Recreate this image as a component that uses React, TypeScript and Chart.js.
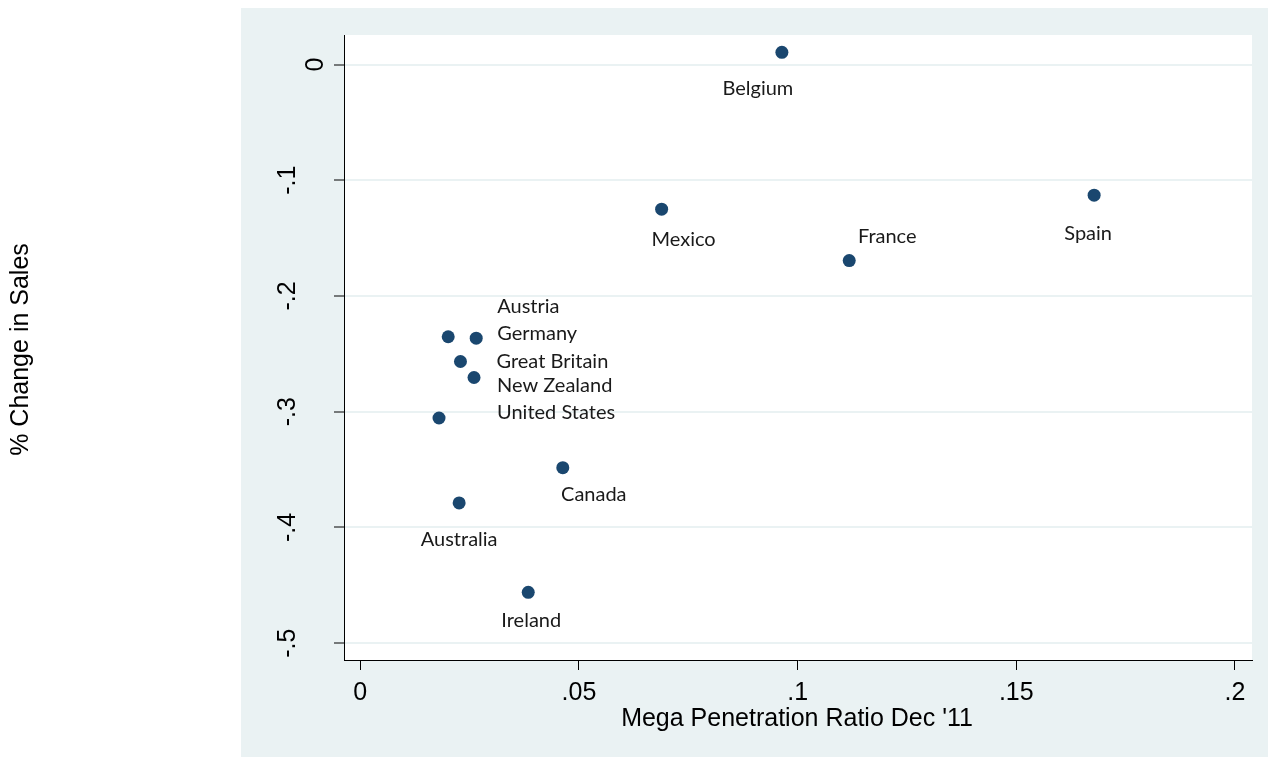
import React, { useEffect, useRef } from "react";
import { Chart, registerables } from "chart.js";

Chart.register(...registerables);

const countries = [
  "Belgium", "Mexico", "France", "Spain", "Austria", "Germany",
  "Great Britain", "New Zealand", "United States", "Canada", "Australia", "Ireland",
];
const penetration = [0.0964, 0.0689, 0.1118, 0.1678, 0.0201, 0.0265, 0.0229, 0.026, 0.018, 0.0463, 0.0226, 0.0384];
const salesChange = [0.0105, -0.125, -0.1694, -0.1129, -0.2352, -0.2364, -0.2566, -0.2704, -0.3054, -0.3483, -0.3788, -0.456];

const xTickValues = [0, 0.05, 0.1, 0.15, 0.2];
const xTickLabels = ["0", ".05", ".1", ".15", ".2"];
const yTickValues = [0, -0.1, -0.2, -0.3, -0.4, -0.5];
const yTickLabels = ["0", "-.1", "-.2", "-.3", "-.4", "-.5"];

const xTitle = "Mega Penetration Ratio Dec '11";
const yTitle = "% Change in Sales";

// label placement (pixel offsets from marker; style only)
const labelStyle: { align: CanvasTextAlign; dx: number; dy: number }[] = [
  { align: "center", dx: -24, dy: 43 },
  { align: "center", dx: 22, dy: 37 },
  { align: "center", dx: 38, dy: -18 },
  { align: "center", dx: -6, dy: 45 },
  { align: "left", dx: 49, dy: -24 },
  { align: "left", dx: 21, dy: 2 },
  { align: "left", dx: 36, dy: 6 },
  { align: "left", dx: 23, dy: 15 },
  { align: "left", dx: 58, dy: 1 },
  { align: "center", dx: 31, dy: 33 },
  { align: "center", dx: 0, dy: 43 },
  { align: "center", dx: 3, dy: 35 },
];

const W = 1268;
const H = 757;
const BG = "#eaf2f3";
const NAVY = "#1a476f";
const AXIS_FONT = "25px 'Liberation Sans', Arial, sans-serif";
const LABEL_FONT = "20px Lato, 'Open Sans', sans-serif";

const decorPlugin = {
  id: "decor",
  beforeDraw(chart: any) {
    const { ctx, chartArea } = chart;
    ctx.save();
    ctx.fillStyle = "#ffffff";
    ctx.fillRect(0, 0, W, H);
    ctx.fillStyle = BG;
    ctx.fillRect(241, 8, W - 241, H - 8);
    ctx.fillStyle = "#ffffff";
    ctx.fillRect(chartArea.left, chartArea.top, chartArea.right - chartArea.left, chartArea.bottom - chartArea.top);
    ctx.restore();
  },
  afterDraw(chart: any) {
    const { ctx, chartArea } = chart;
    const xs = chart.scales.x;
    const ys = chart.scales.y;
    ctx.save();
    ctx.fillStyle = "#000000";
    ctx.font = AXIS_FONT;
    // x tick labels
    ctx.textAlign = "center";
    ctx.textBaseline = "alphabetic";
    xTickValues.forEach((v, i) => {
      ctx.fillText(xTickLabels[i], xs.getPixelForValue(v), chartArea.bottom + 40);
    });
    // y tick labels (rotated)
    yTickValues.forEach((v, i) => {
      const py = ys.getPixelForValue(v);
      const lbl = yTickLabels[i];
      const off = lbl.startsWith("-") ? 49 : 21;
      ctx.save();
      ctx.translate(chartArea.left - off, py);
      ctx.rotate(-Math.PI / 2);
      ctx.textAlign = "center";
      ctx.textBaseline = "alphabetic";
      ctx.fillText(lbl, 0, 0);
      ctx.restore();
    });
    // axis titles
    ctx.textAlign = "center";
    ctx.fillText(xTitle, (chartArea.left + chartArea.right) / 2 - 1, chartArea.bottom + 66);
    ctx.save();
    ctx.translate(28, (chartArea.top + chartArea.bottom) / 2 + 2);
    ctx.rotate(-Math.PI / 2);
    ctx.fillText(yTitle, 0, 0);
    ctx.restore();
    ctx.restore();
  },
  afterDatasetsDraw(chart: any) {
    const { ctx } = chart;
    const meta = chart.getDatasetMeta(0);
    ctx.save();
    ctx.fillStyle = "#1a1a1a";
    ctx.font = LABEL_FONT;
    ctx.textBaseline = "alphabetic";
    meta.data.forEach((pt: any, i: number) => {
      const s = labelStyle[i];
      ctx.textAlign = s.align;
      ctx.fillText(countries[i], pt.x + s.dx, pt.y + s.dy);
    });
    ctx.restore();
  },
};

export default function App() {
  const ref = useRef<HTMLCanvasElement | null>(null);
  useEffect(() => {
    if (!ref.current) return;
    const chart = new Chart(ref.current, {
      type: "scatter",
      data: {
        datasets: [
          {
            label: "countries",
            data: penetration.map((x, i) => ({ x, y: salesChange[i] })),
            backgroundColor: NAVY,
            borderWidth: 0,
            pointRadius: 6.5,
            pointHoverRadius: 6.5,
          },
        ],
      },
      options: {
        animation: false,
        responsive: false,
        events: [],
        layout: { padding: { left: 241, top: 35, right: 16, bottom: 0 } },
        plugins: { legend: { display: false }, tooltip: { enabled: false } },
        scales: {
          x: {
            type: "linear",
            min: -0.00373,
            max: 0.2039,
            afterBuildTicks: (s: any) => {
              s.ticks = xTickValues.map((v) => ({ value: v }));
            },
            afterFit: (s: any) => {
              s.height = 97;
            },
            ticks: { display: false },
            grid: {
              drawOnChartArea: false,
              drawTicks: true,
              tickLength: 10,
              tickColor: "#000000",
              tickWidth: 1,
            },
            border: { display: true, color: "#000000", width: 1 },
          },
          y: {
            type: "linear",
            min: -0.5145,
            max: 0.0255,
            afterBuildTicks: (s: any) => {
              s.ticks = yTickValues.map((v) => ({ value: v }));
            },
            afterFit: (s: any) => {
              s.width = 103;
            },
            ticks: { display: false },
            grid: {
              color: BG,
              lineWidth: 2,
              drawTicks: true,
              tickLength: 10,
              tickColor: "#000000",
              tickWidth: 1,
            },
            border: { display: true, color: "#000000", width: 1 },
          },
        },
      },
      plugins: [decorPlugin],
    });
    return () => chart.destroy();
  }, []);
  return (
    <div style={{ position: "absolute", left: 0, top: 0, width: W, height: H }}>
      <canvas ref={ref} width={W} height={H} style={{ width: W, height: H, display: "block" }} />
    </div>
  );
}
